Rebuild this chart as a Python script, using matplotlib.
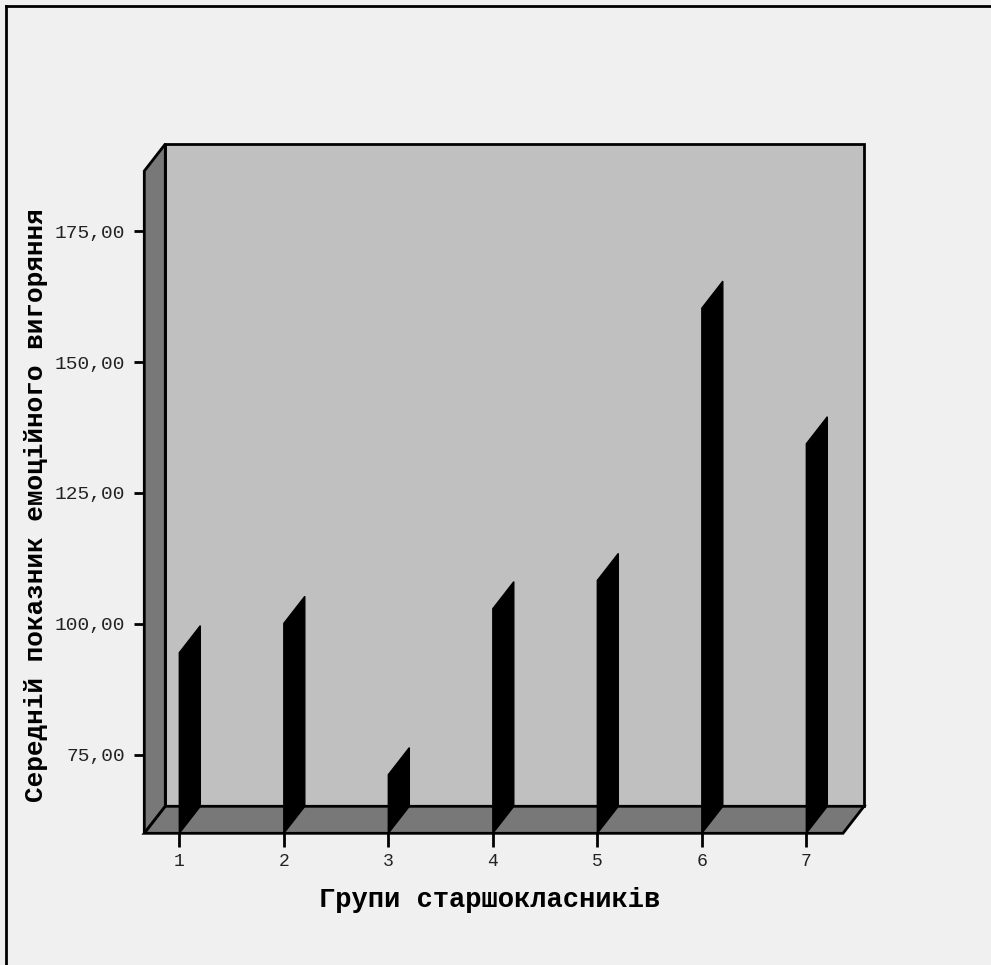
import matplotlib
matplotlib.use("Agg")
import matplotlib.pyplot as plt
from matplotlib.patches import Polygon
from matplotlib.lines import Line2D

categories = ["1", "2", "3", "4", "5", "6", "7"]
values = [94.5, 100.1, 71.2, 102.9, 108.3, 160.3, 134.4]
yticks = [75, 100, 125, 150, 175]
ytick_labels = ["75,00", "100,00", "125,00", "150,00", "175,00"]
xlabel = "Групи старшокласників"
ylabel = "Середній показник емоційного вигоряння"

W, H = 991, 965
fig = plt.figure(figsize=(W / 100, H / 100), dpi=100)
fig.patch.set_facecolor("#f0f0f0")

# front plane of the 3D box (pixel coords)
L, R, B, T = 144.3, 843.0, 833.3, 171.0
ax = fig.add_axes([L / W, 1 - B / H, (R - L) / W, (B - T) / H])
ax.set_facecolor("none")
x0, x1 = 0.665, 7.351
y0, y1 = 60.0, 186.5
ax.set_xlim(x0, x1)
ax.set_ylim(y0, y1)
for s in ax.spines.values():
    s.set_visible(False)

dx = 21 / ((R - L) / (x1 - x0))
dy = 27 / ((B - T) / (y1 - y0))

wall_c = "#787878"
back_c = "#c0c0c0"
lw = 2.0

# back wall
ax.add_patch(Polygon([(x0 + dx, y0 + dy), (x1 + dx, y0 + dy), (x1 + dx, y1 + dy), (x0 + dx, y1 + dy)],
                     closed=True, facecolor=back_c, edgecolor="black", lw=lw, clip_on=False, zorder=1))
# left wall
ax.add_patch(Polygon([(x0, y0), (x0 + dx, y0 + dy), (x0 + dx, y1 + dy), (x0, y1)],
                     closed=True, facecolor=wall_c, edgecolor="black", lw=lw, clip_on=False, zorder=2))
# floor
ax.add_patch(Polygon([(x0, y0), (x1, y0), (x1 + dx, y0 + dy), (x0 + dx, y0 + dy)],
                     closed=True, facecolor=wall_c, edgecolor="black", lw=lw, clip_on=False, zorder=2))

xs = list(range(1, len(categories) + 1))
for xi, v in zip(xs, values):
    ax.add_patch(Polygon([(xi, y0), (xi + dx, y0 + dy), (xi + dx, v + dy), (xi, v)],
                         closed=True, facecolor="black", edgecolor="black", lw=1.0,
                         clip_on=False, zorder=3))

ax.set_xticks(xs)
ax.set_xticklabels(categories)
ax.set_yticks(yticks)
ax.set_yticklabels(ytick_labels)
ax.tick_params(axis="y", length=7, width=2, pad=7, labelsize=14, labelcolor="#222222")
ax.tick_params(axis="x", length=10, width=2, pad=4, labelsize=13, labelcolor="#222222")
for lab in ax.get_xticklabels() + ax.get_yticklabels():
    lab.set_family("Liberation Mono")

fig.text(489.5 / W, 1 - 900 / H, xlabel, ha="center", va="center",
         family="Liberation Mono", fontweight="bold", fontsize=19.5, color="black")
fig.text(36 / W, 1 - 505 / H, ylabel, ha="center", va="center", rotation=90,
         family="Liberation Mono", fontweight="bold", fontsize=18.8, color="black")

# outer frame (left and top)
fig.add_artist(Line2D([6 / W, 6 / W], [0, 1 - 6 / H], color="black", lw=2, transform=fig.transFigure))
fig.add_artist(Line2D([6 / W, 1], [1 - 6 / H, 1 - 6 / H], color="black", lw=2, transform=fig.transFigure))

fig.savefig("out.png", dpi=100, facecolor=fig.get_facecolor())
